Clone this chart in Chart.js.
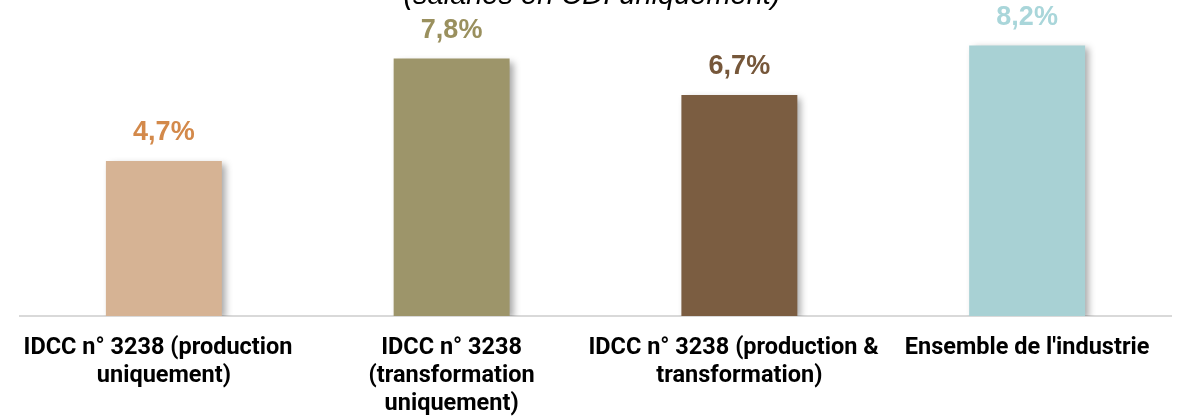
<!DOCTYPE html>
<html lang="fr">
<head>
<meta charset="utf-8">
<script src="https://cdn.jsdelivr.net/npm/chart.js@4/dist/chart.umd.min.js"></script>
<style>
  html, body { margin: 0; padding: 0; background: #ffffff; }
  #wrap { width: 1178px; height: 416px; position: relative; }
</style>
</head>
<body>
<div id="wrap"><canvas id="c"></canvas></div>
<script>
// Catégories (libellés sur plusieurs lignes ; la coupure garde l'espace final)
const categories = [
  ["IDCC n° 3238 (production  ", "uniquement)"],
  ["IDCC n° 3238", "(transformation", "uniquement)"],
  ["IDCC n° 3238 (production &  ", "transformation)"],
  ["Ensemble de l'industrie"]
];
// Part en %
const values = [4.7, 7.8, 6.7, 8.2];
const barColors = ["#D6B394", "#9D956A", "#7B5D41", "#A8D1D4"];
const labelColors = ["#D3894A", "#9A905E", "#76573A", "#A9D6DA"];
const titleText = "(salariés en CDI uniquement)";

const fmt = v => v.toFixed(1).replace(".", ",") + "%";

// Ombre portée sous les barres
const barShadow = {
  id: "barShadow",
  beforeDatasetDraw(chart) {
    const ctx = chart.ctx;
    ctx.save();
    ctx.shadowColor = "rgba(0,0,0,0.35)";
    ctx.shadowBlur = 7;
    ctx.shadowOffsetX = 4;
    ctx.shadowOffsetY = 3;
  },
  afterDatasetDraw(chart) {
    chart.ctx.restore();
  }
};

// Valeurs au-dessus des barres
const valueLabels = {
  id: "valueLabels",
  afterDatasetsDraw(chart) {
    const ctx = chart.ctx;
    const meta = chart.getDatasetMeta(0);
    ctx.save();
    ctx.font = "bold 27px 'Liberation Sans', Arial, sans-serif";
    ctx.textAlign = "center";
    ctx.textBaseline = "middle";
    meta.data.forEach((bar, i) => {
      ctx.fillStyle = labelColors[i];
      ctx.fillText(fmt(values[i]), bar.x, bar.y - 28);
    });
    ctx.restore();
  }
};

// Titre (sous-titre en italique en haut)
const topTitle = {
  id: "topTitle",
  afterDraw(chart) {
    const ctx = chart.ctx;
    ctx.save();
    ctx.font = "italic 29px 'Liberation Sans', Arial, sans-serif";
    ctx.fillStyle = "#000000";
    ctx.textAlign = "center";
    ctx.textBaseline = "alphabetic";
    ctx.fillText(titleText, 592, 4);
    ctx.restore();
  }
};

new Chart(document.getElementById("c"), {
  type: "bar",
  data: {
    labels: categories,
    datasets: [{
      data: values,
      backgroundColor: barColors,
      borderWidth: 0,
      barPercentage: 0.5,
      categoryPercentage: 0.806
    }]
  },
  options: {
    responsive: true,
    maintainAspectRatio: false,
    animation: false,
    layout: { padding: { top: 19, left: 20, right: 7, bottom: 0 } },
    plugins: { legend: { display: false }, tooltip: { enabled: false }, title: { display: false } },
    scales: {
      y: { display: false, min: 0, max: 9 },
      x: {
        grid: { display: false, drawTicks: false },
        border: { display: true, color: "#D9D9D9", width: 2 },
        ticks: {
          color: "#000000",
          padding: 18,
          maxRotation: 0,
          autoSkip: false,
          font: { family: "Roboto, 'Liberation Sans', sans-serif", weight: "bold", size: 23.5, lineHeight: 1.2 }
        },
        afterFit(scale) { scale.height = 100; }
      }
    }
  },
  plugins: [barShadow, valueLabels, topTitle]
});
</script>
</body>
</html>
